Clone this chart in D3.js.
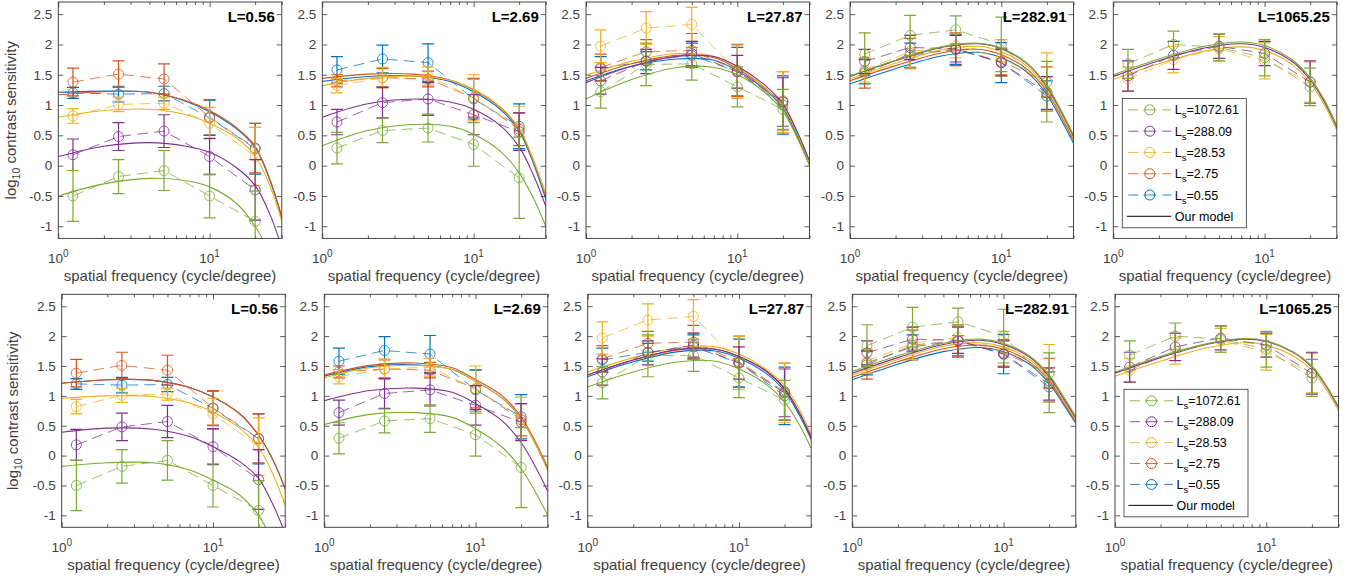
<!DOCTYPE html>
<html><head><meta charset="utf-8">
<script src="https://cdn.jsdelivr.net/npm/d3@7"></script>
<style>
body{margin:0;background:#fff}
svg{display:block}
text{font-family:"Liberation Sans",Arial,Helvetica,sans-serif}
</style>
</head><body>
<svg id="chart" width="1359" height="581"></svg>
<script>
// ---------- data ----------
const spatialFreqs = [1.25, 2.5, 5, 10, 20];
const modelFreqs = [1, 2, 4, 7, 10, 15, 20, 25, 30];
const panelTitles = ["L=0.56", "L=2.69", "L=27.87", "L=282.91", "L=1065.25"];
const seriesLs = ["1072.61", "288.09", "28.53", "2.75", "0.55"];
const seriesColors = ["#77AC30", "#7E2F8E", "#EDB120", "#D95319", "#0072BD"];
const yTickValues = [-1, -0.5, 0, 0.5, 1, 1.5, 2, 2.5];
const yTickLabels = ["-1", "-0.5", "0", "0.5", "1", "1.5", "2", "2.5"];
const xMajorTicks = [1, 10];
const xTickExponents = ["0", "1"];
const xMinorTicks = [2, 3, 4, 5, 6, 7, 8, 9, 20, 30];

// measured data (series order: 1072.61, 288.09, 28.53, 2.75, 0.55)
const meanL056 = [[-0.50,-0.18,-0.08,-0.50,-0.92],[0.18,0.48,0.57,0.15,-0.40],[0.82,1.01,1.03,0.70,0.15],[1.38,1.51,1.43,0.80,0.29],[1.20,1.18,1.19,0.79,0.28]];
const errL056  = [[0.42,0.28,0.33,0.36,0.50],[0.26,0.23,0.27,0.30,0.50],[0.12,0.12,0.10,0.26,0.48],[0.23,0.22,0.25,0.29,0.41],[0.09,0.13,0.12,0.29,0.42]];
const meanL269 = [[0.29,0.58,0.62,0.35,-0.20],[0.72,1.04,1.10,0.84,0.56],[1.32,1.45,1.48,1.12,0.62],[1.40,1.45,1.43,1.12,0.60],[1.58,1.76,1.70,1.10,0.65]];
const errL269  = [[0.26,0.20,0.23,0.36,0.67],[0.21,0.25,0.27,0.33,0.31],[0.12,0.17,0.15,0.38,0.36],[0.10,0.15,0.13,0.32,0.27],[0.22,0.23,0.31,0.33,0.37]];
const meanL2787 = [[1.22,1.67,1.68,1.30,0.93],[1.40,1.72,1.85,1.55,1.05],[1.97,2.27,2.33,1.55,1.05],[1.62,1.88,1.90,1.57,1.07],[1.60,1.73,1.82,1.55,1.00]];
const errL2787  = [[0.27,0.35,0.27,0.33,0.33],[0.22,0.20,0.20,0.27,0.40],[0.27,0.27,0.28,0.44,0.50],[0.22,0.20,0.28,0.43,0.48],[0.20,0.15,0.20,0.40,0.48]];
const meanL28291 = [[1.84,2.15,2.24,2.00,1.22],[1.72,1.95,1.93,1.70,1.20],[1.58,1.88,1.98,1.78,1.38],[1.52,1.85,1.92,1.72,1.38],[1.55,1.82,1.92,1.70,1.15]];
const errL28291  = [[0.35,0.33,0.23,0.45,0.50],[0.20,0.20,0.22,0.22,0.27],[0.20,0.27,0.20,0.30,0.48],[0.24,0.25,0.27,0.22,0.25],[0.20,0.20,0.25,0.33,0.25]];
const meanL106525 = [[1.68,2.00,1.95,1.78,1.30],[1.48,1.82,1.97,1.85,1.38],[1.43,1.75,1.93,1.73,1.38],null,null];
const errL106525  = [[0.24,0.22,0.22,0.30,0.31],[0.25,0.23,0.20,0.20,0.35],[0.20,0.22,0.20,0.30,0.33],null,null];

// model curves, top row (values at modelFreqs)
const modelTopL056 = [[-0.50,-0.30,-0.21,-0.25,-0.35,-0.62,-1.00,-1.45,-1.90],[0.15,0.32,0.38,0.32,0.22,-0.03,-0.33,-0.80,-1.35],[0.80,0.91,0.93,0.84,0.70,0.46,0.16,-0.33,-0.92],[1.17,1.22,1.21,1.07,0.91,0.63,0.32,-0.22,-0.84],[1.21,1.23,1.21,1.06,0.89,0.61,0.30,-0.24,-0.86]];
const modelTopL269 = [[0.33,0.58,0.68,0.65,0.52,0.24,-0.12,-0.55,-1.00],[0.80,1.02,1.10,1.05,0.93,0.66,0.31,-0.17,-0.67],[1.32,1.44,1.48,1.41,1.26,0.97,0.62,0.08,-0.47],[1.44,1.51,1.51,1.41,1.25,0.96,0.60,0.06,-0.50],[1.39,1.47,1.48,1.39,1.22,0.93,0.57,0.02,-0.55]];
const modelTopL2787 = [[1.10,1.42,1.62,1.62,1.50,1.22,0.90,0.45,0.00],[1.37,1.64,1.80,1.80,1.64,1.34,1.02,0.55,0.08],[1.49,1.72,1.85,1.80,1.62,1.30,0.98,0.52,0.05],[1.44,1.68,1.82,1.78,1.60,1.30,0.98,0.52,0.05],[1.40,1.64,1.76,1.74,1.57,1.27,0.95,0.48,0.02]];
const modelTopL28291 = [[1.48,1.74,1.96,2.02,1.94,1.68,1.32,0.90,0.50],[1.47,1.73,1.95,2.01,1.93,1.67,1.30,0.88,0.48],[1.43,1.69,1.91,1.97,1.88,1.63,1.26,0.84,0.45],[1.40,1.65,1.86,1.92,1.83,1.58,1.22,0.80,0.42],[1.35,1.60,1.81,1.87,1.78,1.53,1.17,0.75,0.37]];
const modelTopL106525 = [[1.50,1.76,1.97,2.04,1.98,1.76,1.45,1.07,0.66],[1.47,1.73,1.94,2.01,1.95,1.73,1.42,1.04,0.63],[1.42,1.68,1.89,1.96,1.90,1.68,1.37,0.99,0.58],null,null];

// model curves, bottom row
const modelBotL056 = [[-0.18,-0.12,-0.12,-0.24,-0.41,-0.66,-1.00,-1.45,-1.90],[0.39,0.46,0.44,0.32,0.15,-0.10,-0.38,-0.83,-1.30],[0.96,1.00,0.99,0.88,0.73,0.46,0.14,-0.32,-0.83],[1.21,1.27,1.26,1.14,0.98,0.70,0.34,-0.08,-0.56],[1.21,1.27,1.26,1.14,0.98,0.70,0.34,-0.08,-0.56]];
const modelBotL269 = [[0.52,0.69,0.72,0.64,0.45,0.14,-0.22,-0.62,-1.00],[0.92,1.09,1.13,1.06,0.87,0.58,0.22,-0.20,-0.60],[1.30,1.47,1.51,1.44,1.24,0.96,0.62,0.18,-0.25],[1.35,1.51,1.55,1.47,1.27,1.00,0.65,0.22,-0.20],[1.33,1.49,1.52,1.44,1.24,0.96,0.62,0.18,-0.24]];
const modelBotL2787 = [[1.15,1.40,1.57,1.58,1.45,1.20,0.90,0.52,0.12],[1.35,1.60,1.78,1.78,1.66,1.42,1.12,0.72,0.30],[1.40,1.64,1.81,1.82,1.70,1.45,1.17,0.78,0.35],[1.35,1.60,1.77,1.78,1.66,1.42,1.12,0.72,0.30],[1.32,1.57,1.74,1.75,1.63,1.38,1.08,0.68,0.27]];
const modelBotL28291 = [[1.41,1.67,1.88,1.95,1.88,1.66,1.35,0.98,0.65],[1.38,1.64,1.86,1.93,1.86,1.64,1.32,0.95,0.63],[1.35,1.61,1.83,1.89,1.82,1.60,1.29,0.92,0.60],[1.31,1.57,1.79,1.85,1.78,1.56,1.25,0.88,0.57],[1.27,1.53,1.74,1.81,1.74,1.52,1.21,0.85,0.54]];
const modelBotL106525 = [[1.40,1.66,1.87,1.96,1.92,1.74,1.50,1.17,0.82],[1.38,1.64,1.86,1.95,1.91,1.73,1.48,1.15,0.80],[1.33,1.58,1.80,1.89,1.85,1.67,1.43,1.10,0.75],null,null];

const panelMeans = [meanL056, meanL269, meanL2787, meanL28291, meanL106525];
const panelErrs = [errL056, errL269, errL2787, errL28291, errL106525];
const modelTop = [modelTopL056, modelTopL269, modelTopL2787, modelTopL28291, modelTopL106525];
const modelBot = [modelBotL056, modelBotL269, modelBotL2787, modelBotL28291, modelBotL106525];

// ---------- layout ----------
const W = 223.5;
const rows = [
  {lefts:[58.3,322.3,586,850,1113.3], top:2, bottom:238.4, ylabX:15.5, models:modelTop},
  {lefts:[61.7,324.3,587.7,852.3,1115], top:294.3, bottom:527.3, ylabX:18, models:modelBot}
];
const axisColor = "#333";
const svg = d3.select("#chart");
svg.append("rect").attr("width",1359).attr("height",581).attr("fill","#fff");

rows.forEach((row, r) => {
  row.lefts.forEach((left, p) => {
    const right = left + W;
    const x = d3.scaleLog().domain([1, 30]).range([left, right]);
    const y = d3.scaleLinear().domain([-1.2, 2.7]).range([row.bottom, row.top]);
    const g = svg.append("g");
    const cid = `clip-${r}-${p}`;
    svg.append("clipPath").attr("id", cid).append("rect")
      .attr("x", left).attr("y", row.top).attr("width", W).attr("height", row.bottom - row.top);

    // axes
    const styleAxis = sel => {
      sel.select(".domain").remove();
      sel.selectAll("line").attr("stroke", axisColor).attr("stroke-width", 0.8);
      sel.selectAll("text").attr("fill", "#404040").style("font-size", "13.5px")
        .style("font-family", '"Liberation Sans",Arial,sans-serif');
    };
    g.append("g").attr("transform", `translate(${left},0)`)
      .call(d3.axisLeft(y).tickValues(yTickValues).tickSize(-5).tickPadding(6)
        .tickFormat((d,i) => yTickLabels[i])).call(styleAxis);
    g.append("g").attr("transform", `translate(${right},0)`)
      .call(d3.axisRight(y).tickValues(yTickValues).tickSize(-5).tickFormat("")).call(styleAxis);
    g.append("g").attr("transform", `translate(0,${row.bottom})`)
      .call(d3.axisBottom(x).tickValues(xMajorTicks).tickSize(-5).tickFormat("")).call(styleAxis);
    g.append("g").attr("transform", `translate(0,${row.bottom})`)
      .call(d3.axisBottom(x).tickValues(xMinorTicks).tickSize(-3).tickFormat("")).call(styleAxis);
    g.append("g").attr("transform", `translate(0,${row.top})`)
      .call(d3.axisTop(x).tickValues(xMajorTicks).tickSize(-5).tickFormat("")).call(styleAxis);
    g.append("g").attr("transform", `translate(0,${row.top})`)
      .call(d3.axisTop(x).tickValues(xMinorTicks).tickSize(-3).tickFormat("")).call(styleAxis);

    // x tick labels 10^n
    xMajorTicks.forEach((t, i) => {
      const tx = g.append("text").attr("x", x(t)).attr("y", row.bottom + 24.5)
        .attr("text-anchor", "middle").attr("fill", "#404040").style("font-size", "13.5px");
      tx.append("tspan").text("10");
      tx.append("tspan").attr("dy", -6).style("font-size", "10px").text(xTickExponents[i]);
    });

    // x label
    g.append("text").attr("x", (left + right) / 2).attr("y", row.bottom + 42.5)
      .attr("text-anchor", "middle").attr("fill", "#404040").style("font-size", "15px")
      .text("spatial frequency (cycle/degree)");

    // y label
    if (p === 0) {
      const cy = (row.top + row.bottom) / 2;
      const yl = g.append("text").attr("transform", `translate(${row.ylabX},${cy}) rotate(-90)`)
        .attr("text-anchor", "middle").attr("fill", "#404040").style("font-size", "15px");
      yl.append("tspan").text("log");
      yl.append("tspan").attr("dy", 4).style("font-size", "10.5px").text("10");
      yl.append("tspan").attr("dy", -4).text(" contrast sensitivity");
    }

    // plot content
    const plot = g.append("g").attr("clip-path", `url(#${cid})`);
    const modelLine = d3.line().x(d => x(d[0])).y(d => y(d[1])).curve(d3.curveCatmullRom.alpha(0.5));
    const dataLine = d3.line().x(d => x(d[0])).y(d => y(d[1]));
    const means = panelMeans[p], errs = panelErrs[p], models = row.models[p];
    const order = [4, 3, 2, 1, 0];
    order.forEach(s => {
      if (!means[s]) return;
      const col = seriesColors[s];
      const pts = spatialFreqs.map((f, i) => [f, means[s][i], errs[s][i]]);
      // model
      plot.append("path").datum(modelFreqs.map((f, i) => [f, models[s][i]]))
        .attr("d", modelLine).attr("fill", "none").attr("stroke", col).attr("stroke-width", 1.1);
      // dashed
      plot.append("path").datum(pts).attr("d", dataLine).attr("fill", "none")
        .attr("stroke", col).attr("stroke-width", 1).attr("stroke-dasharray", "11,6").attr("stroke-opacity", 0.75);
      // error bars
      const eb = plot.append("g").attr("stroke", col).attr("stroke-width", 1.2);
      eb.selectAll("line.v").data(pts).join("line")
        .attr("x1", d => x(d[0])).attr("x2", d => x(d[0]))
        .attr("y1", d => y(d[1] - d[2])).attr("y2", d => y(d[1] + d[2]));
      [-1, 1].forEach(sg => {
        eb.selectAll(null).data(pts).join("line")
          .attr("x1", d => x(d[0]) - 6).attr("x2", d => x(d[0]) + 6)
          .attr("y1", d => y(d[1] + sg * d[2])).attr("y2", d => y(d[1] + sg * d[2]));
      });
      // circles
      plot.selectAll(null).data(pts).join("circle")
        .attr("cx", d => x(d[0])).attr("cy", d => y(d[1])).attr("r", 5)
        .attr("fill", "none").attr("stroke", col).attr("stroke-width", 1).attr("stroke-opacity", 0.8);
    });

    // frame
    g.append("rect").attr("x", left).attr("y", row.top).attr("width", W).attr("height", row.bottom - row.top)
      .attr("fill", "none").attr("stroke", axisColor).attr("stroke-width", 0.9);

    // title
    g.append("text").attr("x", right - 7).attr("y", row.top + 19.5).attr("text-anchor", "end")
      .attr("fill", "#000").style("font-size", "15px").style("font-weight", "bold").text(panelTitles[p]);

    // legend
    if (p === 4) {
      const bx = left + 9, bw = 124;
      const byTop = y(1.11), byBot = y(-1.025), bh = byBot - byTop;
      const lg = g.append("g");
      lg.append("rect").attr("x", bx).attr("y", byTop).attr("width", bw).attr("height", bh)
        .attr("fill", "#fff").attr("stroke", axisColor).attr("stroke-width", 0.8);
      const step = (bh - 23) / 5;
      const segs = [[6, 16], [21, 34], [40, 49]];
      seriesLs.forEach((ls, i) => {
        const cy = byTop + 11.5 + i * step;
        const col = seriesColors[i];
        segs.forEach(sg => {
          lg.append("line").attr("x1", bx + sg[0]).attr("x2", bx + sg[1]).attr("y1", cy).attr("y2", cy)
            .attr("stroke", col).attr("stroke-width", 1).attr("stroke-opacity", 0.85);
        });
        lg.append("circle").attr("cx", bx + 27.5).attr("cy", cy).attr("r", 5)
          .attr("fill", "none").attr("stroke", col).attr("stroke-width", 1);
        const t = lg.append("text").attr("x", bx + 52.5).attr("y", cy + 4.5).attr("fill", "#000")
          .style("font-size", "12.5px");
        t.append("tspan").text("L");
        t.append("tspan").attr("dy", 4).style("font-size", "9.5px").text("s");
        t.append("tspan").attr("dy", -4).text("=" + ls);
      });
      const cy = byTop + 11.5 + 5 * step;
      lg.append("line").attr("x1", bx + 4.5).attr("x2", bx + 49).attr("y1", cy).attr("y2", cy)
        .attr("stroke", "#000").attr("stroke-width", 1);
      lg.append("text").attr("x", bx + 52.5).attr("y", cy + 4.5).attr("fill", "#000")
        .style("font-size", "12.5px").text("Our model");
    }
  });
});
</script>
</body></html>
